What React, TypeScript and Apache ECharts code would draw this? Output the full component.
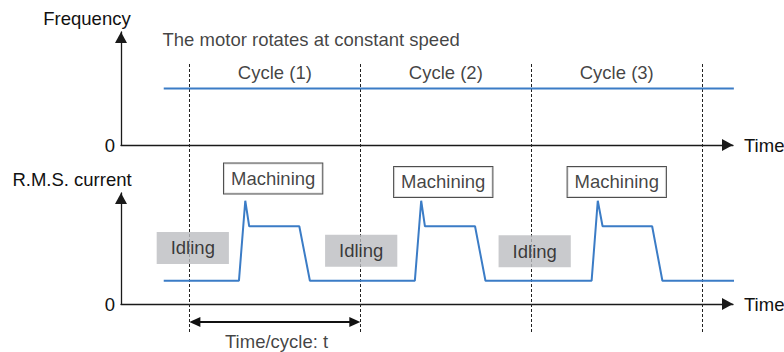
import React, { useEffect, useRef } from 'react';
import * as echarts from 'echarts';

// ---- data (time in arbitrary units; one cycle = 10 units) ----
const X_MAX = 35.8;
const Y_MAX = 10;
const cycleBoundaries = [4, 14, 24, 34];
const cycleLabels = ['Cycle (1)', 'Cycle (2)', 'Cycle (3)'];
const cycleLabelX = [9, 19, 29];
const cycleLabelY = 6.4;
const frequencyLine: number[][] = [[2.5, 5], [35.85, 5]];
const currentWave: number[][] = [
  [2.5, 2.1],
  [6.9, 2.1], [7.27, 9.3], [7.5, 7.0], [10.43, 7.0], [11.05, 2.1],
  [17.19, 2.1], [17.56, 9.3], [17.78, 7.0], [20.71, 7.0], [21.32, 2.1],
  [27.53, 2.1], [27.89, 9.3], [28.17, 7.0], [31.07, 7.0], [31.67, 2.1],
  [36.05, 2.1],
];
const machiningX = [8.9, 18.85, 29.0];
const machiningY = [11.3, 11.0, 11.0];
const idlingX = [4.2, 14.05, 24.2];
const idlingY = [5.05, 4.8, 4.75];
const periodArrow = [4, 14, -1.62];
const headline = { text: 'The motor rotates at constant speed', x: 2.4, y: 9.3 };
const periodText = { text: 'Time/cycle: t', x: 9.1, y: -3.42 };
const axisNames = { top: 'Frequency', bottom: 'R.M.S. current', time: 'Time' };

const FONT = '"Liberation Sans", Arial, Helvetica, sans-serif';
const FS = 18.5;
const TEXT = '#111111';
const AXIS = '#1a1a1a';
const BLUE = '#3b7cc6';

export default function App() {
  const ref = useRef<HTMLDivElement>(null);

  useEffect(() => {
    document.body.style.margin = '0';
    if (!ref.current) return;
    const chart = echarts.init(ref.current, undefined, { renderer: 'svg' });

    const axisLine = {
      show: true,
      onZero: false,
      symbol: ['none', 'triangle'],
      symbolSize: [12, 11],
      symbolOffset: [0, -5.5],
      lineStyle: { color: AXIS, width: 1.3 },
    };
    const nameStyle = { fontSize: FS, color: TEXT, fontFamily: FONT };

    const xAxis = (gridIndex: number, visible: boolean) => ({
      type: 'value',
      gridIndex,
      min: 0,
      max: X_MAX,
      show: visible,
      axisLine,
      axisTick: { show: false },
      axisLabel: { show: false },
      splitLine: { show: false },
      name: visible ? axisNames.time : '',
      nameLocation: 'end',
      nameGap: 11,
      nameTextStyle: nameStyle,
    });
    const yAxis = (gridIndex: number, name: string, padRight: number) => ({
      type: 'value',
      gridIndex,
      min: 0,
      max: Y_MAX,
      interval: 10,
      axisLine,
      axisTick: { show: false },
      splitLine: { show: false },
      axisLabel: {
        show: true,
        margin: 6,
        fontSize: FS,
        color: TEXT,
        fontFamily: FONT,
        formatter: (v: number) => (v === 0 ? '0' : ''),
      },
      name,
      nameLocation: 'end',
      nameGap: 4,
      nameTextStyle: { ...nameStyle, align: 'center', padding: [0, padRight, 0, 0] },
    });

    const textSeries = (axisIndex: number, data: any[], label: any) => ({
      type: 'scatter',
      xAxisIndex: axisIndex,
      yAxisIndex: axisIndex,
      symbolSize: 1,
      itemStyle: { color: 'transparent' },
      clip: false,
      silent: true,
      z: 5,
      data,
      label: {
        show: true,
        position: 'inside',
        formatter: '{b}',
        fontSize: FS,
        color: TEXT,
        fontFamily: FONT,
        ...label,
      },
    });

    const option: any = {
      animation: false,
      grid: [
        { left: 121, top: 32, width: 612, height: 113, outerBoundsMode: 'none' },
        { left: 121, top: 193, width: 612, height: 111, outerBoundsMode: 'none' },
        { left: 121, top: 64, width: 612, height: 269, outerBoundsMode: 'none' },
      ],
      xAxis: [xAxis(0, true), xAxis(1, true), xAxis(2, false)],
      yAxis: [
        yAxis(0, axisNames.top, 68),
        yAxis(1, axisNames.bottom, 98),
        { type: 'value', gridIndex: 2, min: 0, max: 1, show: false },
      ],
      series: [
        {
          type: 'custom',
          xAxisIndex: 2,
          yAxisIndex: 2,
          z: 1,
          silent: true,
          data: cycleBoundaries.map((x) => [x, 0]),
          renderItem: (_p: any, api: any) => {
            const x = api.value(0);
            const t = api.coord([x, 1]);
            const b = api.coord([x, 0]);
            const px = Math.round(t[0]) + 0.5;
            return {
              type: 'line',
              shape: { x1: px, y1: t[1], x2: px, y2: b[1] },
              style: { stroke: '#222', lineWidth: 1, lineDash: [3, 2] },
            };
          },
        },
        {
          type: 'line',
          xAxisIndex: 0,
          yAxisIndex: 0,
          data: frequencyLine,
          symbol: 'none',
          clip: false,
          silent: true,
          lineStyle: { color: BLUE, width: 2 },
        },
        {
          type: 'line',
          xAxisIndex: 1,
          yAxisIndex: 1,
          data: currentWave,
          symbol: 'none',
          clip: false,
          silent: true,
          lineStyle: { color: BLUE, width: 2 },
        },
        {
          type: 'custom',
          xAxisIndex: 1,
          yAxisIndex: 1,
          silent: true,
          data: [periodArrow],
          renderItem: (_p: any, api: any) => {
            const y = api.value(2);
            const a = api.coord([api.value(0), y]);
            const b = api.coord([api.value(1), y]);
            const L = 11;
            const H = 5;
            return {
              type: 'group',
              children: [
                {
                  type: 'line',
                  shape: { x1: a[0] + L - 1, y1: a[1], x2: b[0] - L + 1, y2: b[1] },
                  style: { stroke: '#111', lineWidth: 2 },
                },
                {
                  type: 'polygon',
                  shape: { points: [[a[0], a[1]], [a[0] + L, a[1] - H], [a[0] + L, a[1] + H]] },
                  style: { fill: '#111' },
                },
                {
                  type: 'polygon',
                  shape: { points: [[b[0], b[1]], [b[0] - L, b[1] - H], [b[0] - L, b[1] + H]] },
                  style: { fill: '#111' },
                },
              ],
            };
          },
        },
        textSeries(
          0,
          cycleLabels.map((name, i) => ({ name, value: [cycleLabelX[i], cycleLabelY] })),
          {}
        ),
        textSeries(0, [{ name: headline.text, value: [headline.x, headline.y] }], {
          position: 'right',
          distance: 0,
        }),
        textSeries(1, [{ name: periodText.text, value: [periodText.x, periodText.y] }], {}),
        textSeries(
          1,
          idlingX.map((x, i) => ({ name: 'Idling', value: [x, idlingY[i]] })),
          { backgroundColor: '#bcbdc0', padding: [7, 14, 7, 14], lineHeight: 18 }
        ),
        textSeries(
          1,
          machiningX.map((x, i) => ({ name: 'Machining', value: [x, machiningY[i]] })),
          {
            backgroundColor: '#ffffff',
            borderColor: '#222',
            borderWidth: 1,
            padding: [6, 7, 6, 7],
            lineHeight: 18,
          }
        ),
      ],
    };

    chart.setOption(option);
    return () => chart.dispose();
  }, []);

  return <div ref={ref} style={{ width: 784, height: 352 }} />;
}
